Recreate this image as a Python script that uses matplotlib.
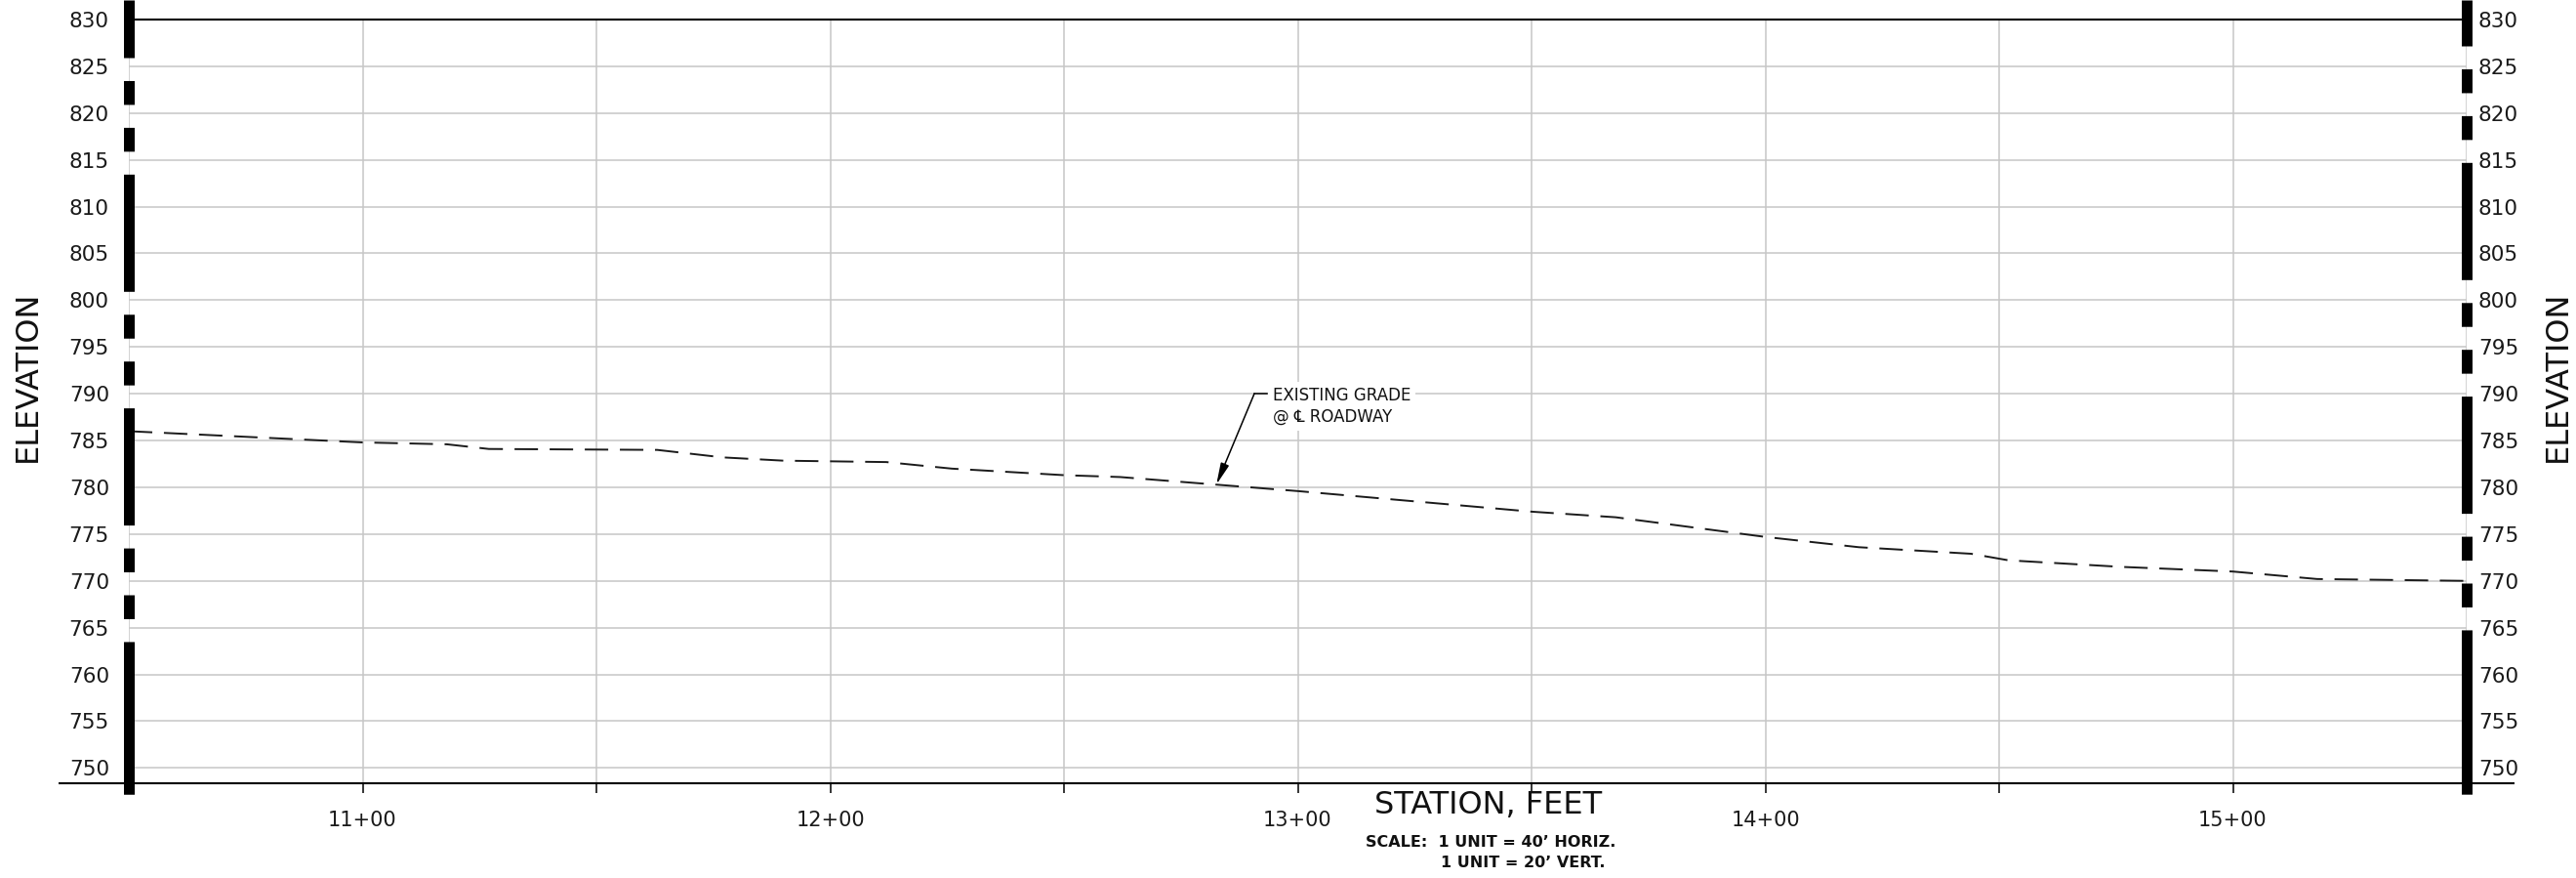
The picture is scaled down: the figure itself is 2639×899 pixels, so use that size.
import matplotlib
matplotlib.use('Agg')
import matplotlib.pyplot as plt
from matplotlib.ticker import MultipleLocator, FuncFormatter
from matplotlib.transforms import blended_transform_factory

plt.rcParams['font.family'] = ['DejaVu Sans']
plt.rcParams['lines.scale_dashes'] = False

# existing grade @ centerline (station ft, elevation ft)
stations = [1050, 1100, 1118, 1127, 1163, 1177, 1190, 1212, 1226, 1250, 1262,
            1300, 1350, 1368, 1400, 1420, 1444, 1452, 1476, 1500, 1518, 1550]
grade = [786.0, 784.8, 784.6, 784.1, 784.0, 783.2, 782.85, 782.7, 782.0, 781.3, 781.1,
         779.6, 777.4, 776.8, 774.7, 773.6, 772.9, 772.2, 771.5, 771.0, 770.2, 770.0]

STA_MIN, STA_MAX = 1050, 1550
ELEV_MIN, ELEV_MAX = 748.4, 830
elev_ticks = list(range(750, 831, 5))

callout_label = 'EXISTING GRADE\n@ \u2104 ROADWAY'
callout_tip = (1282.6, 780.3)
callout_elbow = (1290.7, 790.0)
callout_text_at = (1294.7, 787.0)   # baseline of the last line

W, H = 2639, 899
fig = plt.figure(figsize=(W / 100, H / 100), dpi=100)
ax = fig.add_axes([132 / W, 97.3 / H, (2527 - 132) / W, (801.7 - 20) / H])

ax.set_xlim(STA_MIN, STA_MAX)
ax.set_ylim(ELEV_MIN, ELEV_MAX)
ax.xaxis.set_major_locator(MultipleLocator(50))
ax.xaxis.set_major_formatter(FuncFormatter(
    lambda v, p: f"{int(v) // 100}+00" if int(round(v)) % 100 == 0 else ''))
ax.set_yticks(elev_ticks)

ax.grid(True, color='#c6c6c6', lw=1.1, zorder=0)
ax.set_axisbelow(True)
for s in ['left', 'right', 'bottom']:
    ax.spines[s].set_visible(False)
ax.spines['top'].set_linewidth(1.5)
ax.spines['top'].set_color('black')

ax.tick_params(axis='x', length=7.2, width=1.1, color='black', pad=13,
               labelsize=15, labelcolor='#1a1a1a')
ax.tick_params(axis='y', length=0, pad=14.4, labelsize=15.5, labelcolor='#1a1a1a')

ax2 = ax.twinx()
ax2.set_ylim(ELEV_MIN, ELEV_MAX)
ax2.set_yticks(elev_ticks)
ax2.tick_params(axis='y', length=0, pad=8.6, labelsize=15.5, labelcolor='#1a1a1a')
for s in ax2.spines.values():
    s.set_visible(False)

# bottom reference line, longer than the grid
ax.plot([1035, 1560.2], [ELEV_MIN, ELEV_MIN], color='black', lw=1.5,
        clip_on=False, zorder=4, solid_capstyle='butt')

# existing grade
ax.plot(stations, grade, color='#1a1a1a', lw=1.4, dashes=(17.3, 8.6), zorder=3)

# heavy phantom-style border lines at the profile ends
trans = blended_transform_factory(ax.transData, fig.transFigure)
bar_pat = (86.4, 16.9, 17.6, 16.9, 17.6, 16.9)
bar_bottom = 1 - 813 / H
for x, shift in [(STA_MIN, 0), (STA_MAX, 12)]:
    ax.plot([x, x], [1.0, bar_bottom], transform=trans,
            color='black', lw=7.9, linestyle=((61 + shift) * 0.72, bar_pat),
            dash_capstyle='butt', clip_on=False, zorder=6)
    ax.plot([x, x], [1 - (658 - shift) / H, bar_bottom], transform=trans,
            color='black', lw=7.9, solid_capstyle='butt', clip_on=False, zorder=6)

# callout
ax.text(callout_text_at[0], callout_text_at[1], callout_label, fontsize=12,
        ha='left', va='baseline', linespacing=1.3, color='#111111', zorder=5,
        bbox=dict(facecolor='white', edgecolor='none', boxstyle='square,pad=0.3'))
ax.plot([callout_text_at[0] - 1.3, callout_elbow[0]], [callout_elbow[1]] * 2,
        color='black', lw=1.1, zorder=5)
ax.annotate('', xy=callout_tip, xytext=callout_elbow, zorder=5,
            arrowprops=dict(arrowstyle='-|>,head_length=1.1,head_width=0.22',
                            mutation_scale=12, color='black', lw=1.1,
                            shrinkA=0, shrinkB=0))

# axis titles and scale note
fig.text(28.6 / W, 1 - 385 / H, 'ELEVATION', rotation=90, fontsize=23,
         ha='center', va='center', color='#111111')
fig.text(2620 / W, 1 - 385 / H, 'ELEVATION', rotation=90, fontsize=23,
         ha='center', va='center', color='#111111')
fig.text(1525 / W, 1 - 833.3 / H, 'STATION, FEET', fontsize=23,
         ha='center', va='baseline', color='#111111')
fig.text(1399 / W, 1 - 867 / H, 'SCALE:  1 UNIT = 40\u2019 HORIZ.', fontsize=11.5,
         fontweight='bold', ha='left', va='baseline', color='#111111')
fig.text(1476 / W, 1 - 888 / H, '1 UNIT = 20\u2019 VERT.', fontsize=11.5,
         fontweight='bold', ha='left', va='baseline', color='#111111')

fig.savefig('out.png', dpi=100, facecolor='white')
